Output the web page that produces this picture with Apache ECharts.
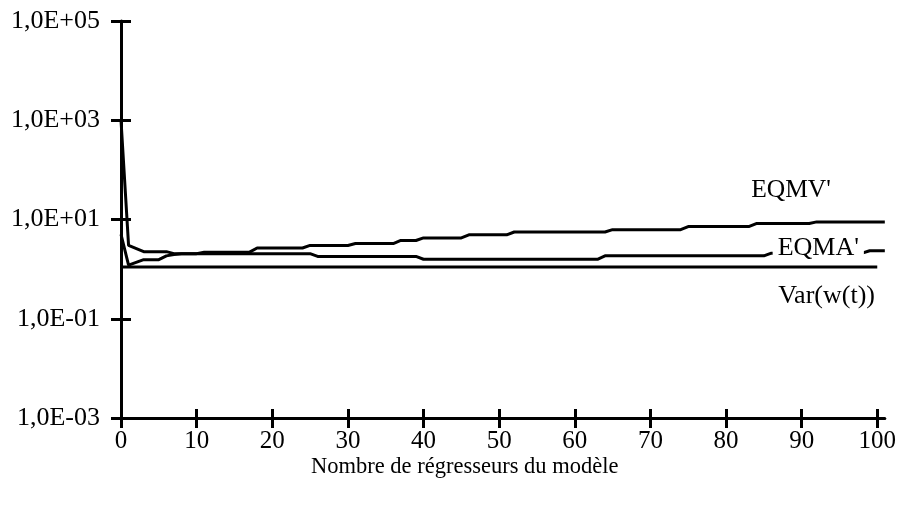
<!DOCTYPE html>
<html>
<head>
<meta charset="utf-8">
<script src="https://cdn.jsdelivr.net/npm/echarts@6/dist/echarts.min.js"></script>
<style>
  html, body { margin: 0; padding: 0; background: #fff; }
  #chart { width: 899px; height: 508px; }
</style>
</head>
<body>
<div id="chart"></div>
<script>
// Nombre de régresseurs (abscisse) et erreurs quadratiques moyennes (échelle log)
const xTicks = [0, 10, 20, 30, 40, 50, 60, 70, 80, 90, 100];
const yTicks = [0.001, 0.1, 10, 1000, 100000];

const eqmvX = [0, 1, 3, 6, 7, 10, 11, 17, 18, 24, 25, 30, 31, 36, 37, 39, 40, 45, 46, 51, 52, 64, 65, 74, 75, 83, 84, 91, 92, 101];
const eqmvY = [1000, 3.0, 2.25, 2.25, 2.05, 2.05, 2.2, 2.2, 2.67, 2.67, 3.0, 3.0, 3.28, 3.28, 3.78, 3.78, 4.26, 4.26, 4.9, 4.9, 5.6, 5.6, 6.25, 6.25, 7.2, 7.2, 8.3, 8.3, 8.95, 8.95];

const eqmaX = [0, 1, 3, 5, 6, 7, 8, 25, 26, 39, 40, 63, 64, 85, 86, 98, 99, 101];
const eqmaY = [5.0, 1.2, 1.55, 1.55, 1.85, 1.97, 2.05, 2.05, 1.8, 1.8, 1.58, 1.58, 1.85, 1.85, 2.1, 2.1, 2.35, 2.35];

const varX = [0, 100];
const varY = [1.1, 1.1];

// label anchors (data units)
const labelEqmv = [88.6, 39];
const labelEqma = [92.2, 2.6];
const labelVar = [93.3, 0.28];

const FONT = 'Liberation Serif';

function pairs(xs, ys) { return xs.map((x, i) => [x, ys[i]]); }

function expLabel(v) {
  const e = Math.round(Math.log10(v));
  const s = e < 0 ? '-' : '+';
  const a = Math.abs(e);
  return '1,0E' + s + (a < 10 ? '0' : '') + a;
}

function textMark(coord, text, withBg, size) {
  return {
    symbol: 'rect',
    symbolSize: 1,
    itemStyle: { color: 'rgba(0,0,0,0)' },
    z: 10,
    silent: true,
    data: [{
      coord: coord,
      label: {
        show: true,
        position: 'inside',
        formatter: text,
        color: '#000',
        fontFamily: FONT,
        fontSize: size,
        align: 'center',
        verticalAlign: 'middle',
        backgroundColor: withBg ? '#fff' : 'transparent',
        padding: withBg ? [0, 5, 0, 5] : 0,
        lineHeight: 24
      }
    }]
  };
}

const axisBase = {
  type: 'value',
  min: 0,
  max: 101,
  position: 'bottom',
  splitLine: { show: false }
};

const chart = echarts.init(document.getElementById('chart'), null, { renderer: 'canvas' });

chart.setOption({
  animation: false,
  backgroundColor: '#fff',
  title: {
    text: 'Nombre de régresseurs du modèle',
    left: 311,
    top: 456,
    padding: 0,
    textStyle: { color: '#000', fontFamily: FONT, fontSize: 22.5, fontWeight: 'normal' }
  },
  grid: { left: 121, right: 12, top: 21, bottom: 90 },
  xAxis: [
    Object.assign({}, axisBase, {
      axisLine: { show: true, lineStyle: { color: '#000', width: 3 } },
      axisTick: { show: true, length: 10, customValues: xTicks, lineStyle: { color: '#000', width: 3 } },
      axisLabel: { show: true, customValues: xTicks, margin: 11, color: '#000', fontFamily: FONT, fontSize: 25 }
    }),
    Object.assign({}, axisBase, {
      axisLine: { show: false },
      axisTick: { show: true, inside: true, length: 9, customValues: xTicks, lineStyle: { color: '#000', width: 3 } },
      axisLabel: { show: false }
    })
  ],
  yAxis: [
    {
      type: 'log',
      logBase: 10,
      min: 0.001,
      max: 100000,
      splitLine: { show: false },
      axisLine: { show: true, lineStyle: { color: '#000', width: 3 } },
      axisTick: { show: true, length: 10, customValues: yTicks, lineStyle: { color: '#000', width: 3 } },
      axisLabel: { show: true, customValues: yTicks, margin: 21, color: '#000', fontFamily: FONT, fontSize: 26, formatter: expLabel }
    },
    {
      type: 'log',
      logBase: 10,
      min: 0.001,
      max: 100000,
      position: 'left',
      splitLine: { show: false },
      axisLine: { show: false },
      axisTick: { show: true, inside: true, length: 10, customValues: yTicks, lineStyle: { color: '#000', width: 3 } },
      axisLabel: { show: false }
    }
  ],
  series: [
    {
      name: "EQMV'",
      type: 'line',
      showSymbol: false,
      data: pairs(eqmvX, eqmvY),
      lineStyle: { color: '#000', width: 3 },
      markPoint: textMark(labelEqmv, "EQMV'", false, 25.5)
    },
    {
      name: "EQMA'",
      type: 'line',
      showSymbol: false,
      data: pairs(eqmaX, eqmaY),
      lineStyle: { color: '#000', width: 3 },
      markPoint: textMark(labelEqma, "EQMA'", true, 26)
    },
    {
      name: 'Var(w(t))',
      type: 'line',
      showSymbol: false,
      data: pairs(varX, varY),
      lineStyle: { color: '#000', width: 3 },
      markPoint: textMark(labelVar, 'Var(w(t))', false, 26)
    }
  ]
});
</script>
</body>
</html>
